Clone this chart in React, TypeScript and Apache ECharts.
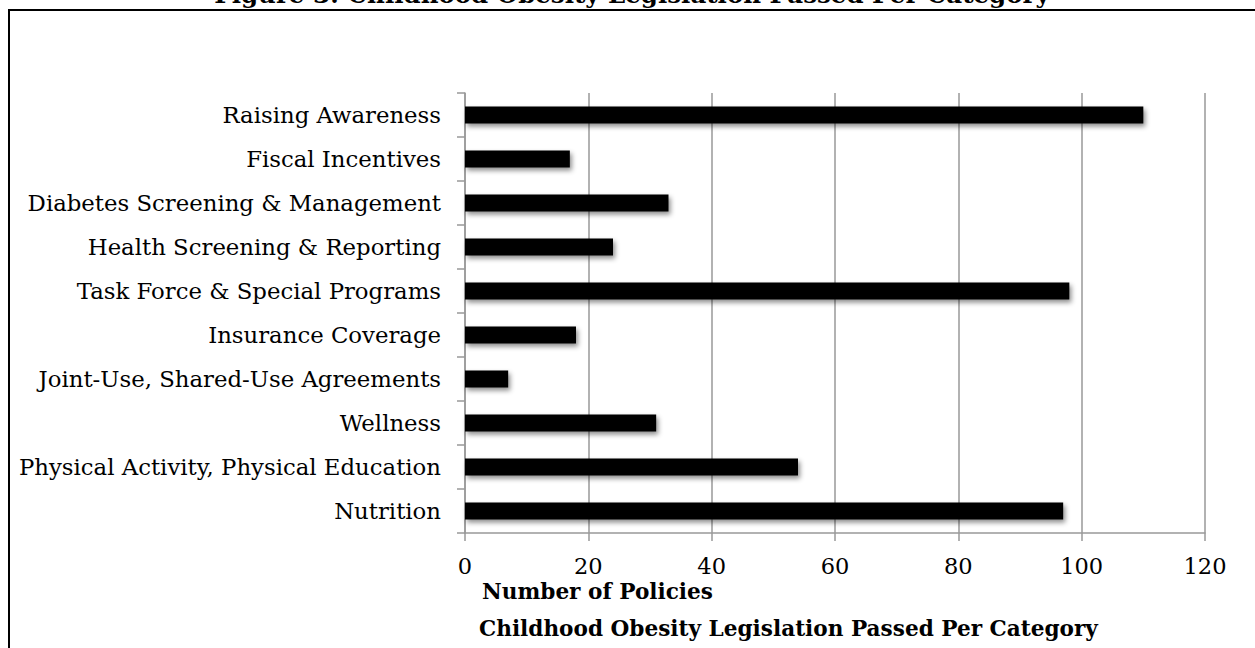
import React, { useEffect, useRef } from "react";
import * as echarts from "echarts";

const categories = [
  "Raising Awareness",
  "Fiscal Incentives",
  "Diabetes Screening & Management",
  "Health Screening & Reporting",
  "Task Force & Special Programs",
  "Insurance Coverage",
  "Joint-Use, Shared-Use Agreements",
  "Wellness",
  "Physical Activity, Physical Education",
  "Nutrition",
];
const policies = [110, 17, 33, 24, 98, 18, 7, 31, 54, 97];
const xTicks = { min: 0, max: 120, interval: 20 };
const figureTitle = "Figure 3: Childhood Obesity Legislation Passed Per Category";
const axisTitle = "Number of Policies";
const chartTitle = "Childhood Obesity Legislation Passed Per Category";

const SERIF = "'DejaVu Serif', 'Liberation Serif', serif";

export default function App() {
  const ref = useRef<HTMLDivElement>(null);
  useEffect(() => {
    if (!ref.current) return;
    const chart = echarts.init(ref.current, null, { renderer: "svg" });
    chart.setOption({
      animation: false,
      backgroundColor: "#ffffff",
      grid: { left: 465, right: 50, top: 93, bottom: 115, containLabel: false },
      xAxis: {
        type: "value",
        min: xTicks.min,
        max: xTicks.max,
        interval: xTicks.interval,
        axisLine: { show: true, lineStyle: { color: "#999999", width: 1.5 } },
        axisTick: { show: true, length: 8, lineStyle: { color: "#999999", width: 1.5 } },
        splitLine: { show: true, lineStyle: { color: "#999999", width: 1.5 } },
        axisLabel: { color: "#000", fontFamily: SERIF, fontSize: 22.5, margin: 21 },
      },
      yAxis: {
        type: "category",
        data: categories,
        inverse: true,
        axisLine: { show: true, lineStyle: { color: "#999999", width: 1.5 } },
        axisTick: { show: true, length: 8, lineStyle: { color: "#999999", width: 1.5 } },
        axisLabel: { color: "#000", fontFamily: SERIF, fontSize: 22.8, margin: 24 },
      },
      series: [
        {
          type: "bar",
          data: policies,
          barWidth: 17,
          itemStyle: {
            color: "#000000",
            shadowColor: "rgba(0,0,0,0.45)",
            shadowBlur: 5,
            shadowOffsetX: 2,
            shadowOffsetY: 3,
          },
        },
      ],
      graphic: [
        {
          type: "rect",
          shape: { x: 9, y: 10, width: 1300, height: 700 },
          style: { fill: "none", stroke: "#000", lineWidth: 2 },
          silent: true,
        },
        {
          type: "text",
          x: 632,
          y: -6,
          style: {
            text: figureTitle,
            fontFamily: SERIF,
            fontWeight: "bold",
            fontSize: 24.5,
            fill: "#000",
            align: "center",
            verticalAlign: "middle",
          },
        },
        {
          type: "text",
          x: 482,
          y: 591,
          style: {
            text: axisTitle,
            fontFamily: SERIF,
            fontWeight: "bold",
            fontSize: 21.6,
            fill: "#000",
            align: "left",
            verticalAlign: "middle",
          },
        },
        {
          type: "text",
          x: 479,
          y: 628,
          style: {
            text: chartTitle,
            fontFamily: SERIF,
            fontWeight: "bold",
            fontSize: 21.6,
            fill: "#000",
            align: "left",
            verticalAlign: "middle",
          },
        },
      ],
    });
    return () => chart.dispose();
  }, []);
  return (
    <div
      ref={ref}
      style={{ position: "fixed", left: 0, top: 0, width: 1255, height: 648 }}
    />
  );
}
